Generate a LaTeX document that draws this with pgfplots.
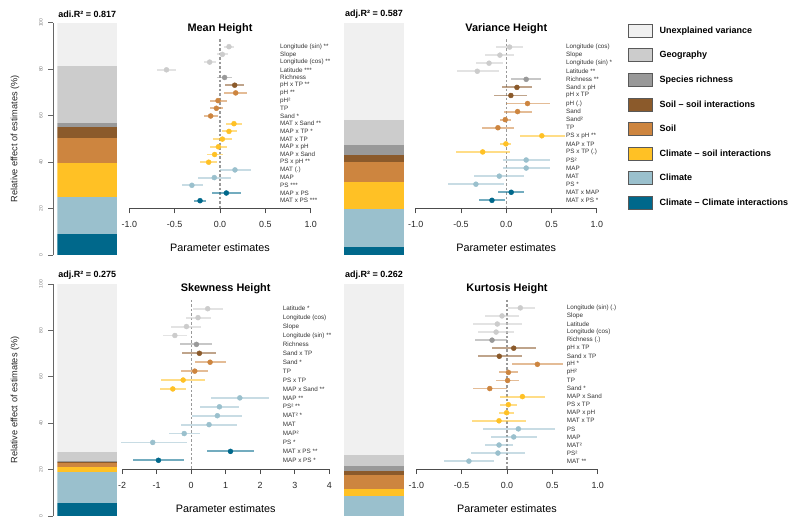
\documentclass[border=0pt]{standalone}
\usepackage{pgfplots}
\pgfplotsset{compat=1.18}
\usepackage{pgfplotstable}
\usepackage{fontspec}
\setmainfont{Liberation Sans}
\definecolor{cUnex}{HTML}{F0F0F0}
\definecolor{cGeo}{HTML}{CCCCCC}
\definecolor{cRich}{HTML}{999999}
\definecolor{cSS}{HTML}{8B5A2B}
\definecolor{cSoil}{HTML}{CD853F}
\definecolor{cCS}{HTML}{FFC125}
\definecolor{cClim}{HTML}{9AC0CD}
\definecolor{cCC}{HTML}{00688B}

% Mean height
\pgfplotstableread{
row est lo hi g
1 0.099 0.044 0.158 1
2 0.026 -0.037 0.092 1
3 -0.114 -0.176 -0.048 1
4 -0.59 -0.69 -0.48 1
5 0.051 -0.03 0.129 2
6 0.162 0.055 0.268 3
7 0.173 0.048 0.30 4
8 -0.022 -0.11 0.074 4
9 -0.04 -0.11 0.037 4
10 -0.103 -0.18 -0.018 4
11 0.154 0.066 0.246 5
12 0.099 0.018 0.184 5
13 0.026 -0.08 0.132 5
14 -0.018 -0.11 0.074 5
15 -0.059 -0.147 0.029 5
16 -0.125 -0.22 -0.037 5
17 0.165 0.0 0.338 6
18 -0.063 -0.24 0.118 6
19 -0.31 -0.42 -0.19 6
20 0.07 -0.092 0.228 7
21 -0.22 -0.29 -0.155 7
}\tMean
% Variance height
\pgfplotstableread{
row est lo hi g
1 0.037 -0.11 0.18 1
2 -0.07 -0.23 0.09 1
3 -0.19 -0.33 -0.037 1
4 -0.32 -0.54 -0.077 1
5 0.22 0.055 0.386 2
6 0.118 -0.048 0.28 3
7 0.051 -0.13 0.228 3
8 0.235 0.0 0.478 4
9 0.125 -0.03 0.283 4
10 -0.011 -0.066 0.051 4
11 -0.092 -0.268 0.085 4
12 0.393 0.147 0.647 5
13 -0.004 -0.066 0.055 5
14 -0.26 -0.56 0.044 5
15 0.22 -0.04 0.485 6
16 0.22 -0.04 0.485 6
17 -0.077 -0.36 0.2 6
18 -0.335 -0.64 -0.022 6
19 0.055 -0.092 0.2 7
20 -0.158 -0.298 -0.011 7
}\tVar
% Skewness height
\pgfplotstableread{
row est lo hi g
1 0.48 0.06 0.93 1
2 0.2 -0.16 0.58 1
3 -0.135 -0.57 0.29 1
4 -0.47 -0.82 -0.116 1
5 0.154 -0.31 0.61 2
6 0.24 -0.25 0.73 3
7 0.55 0.1 1.01 4
8 0.106 -0.28 0.48 4
9 -0.23 -0.86 0.405 5
10 -0.53 -0.91 -0.145 5
11 1.41 0.58 2.25 6
12 0.82 0.26 1.38 6
13 0.76 0.03 1.485 6
14 0.52 -0.28 1.33 6
15 -0.2 -0.65 0.26 6
16 -1.11 -2.04 -0.116 6
17 1.14 0.45 1.82 7
18 -0.945 -1.68 -0.21 7
}\tSkew
% Kurtosis height
\pgfplotstableread{
row est lo hi g
1 0.147 0.007 0.305 1
2 -0.055 -0.24 0.13 1
3 -0.107 -0.375 0.165 1
4 -0.12 -0.315 0.077 1
5 -0.165 -0.35 0.0 2
6 0.074 -0.165 0.316 3
7 -0.085 -0.32 0.165 3
8 0.335 0.06 0.615 4
9 0.015 -0.088 0.118 4
10 0.007 -0.118 0.132 4
11 -0.19 -0.37 0.0 4
12 0.17 -0.074 0.415 5
13 0.015 -0.08 0.11 5
14 -0.004 -0.088 0.08 5
15 -0.088 -0.39 0.21 5
16 0.125 -0.265 0.53 6
17 0.074 -0.18 0.327 6
18 -0.088 -0.24 0.066 6
19 -0.1 -0.395 0.2 6
20 -0.42 -0.7 -0.14 6
}\tKurt

\pgfplotsset{
  grp/.style={only marks, mark=*, mark size=2.5pt, color=#1,
    mark options={fill=#1, draw=#1, solid, opacity=1},
    /pgfplots/error bars/.cd, x dir=both, x explicit, error mark=none,
    error bar style={line width=1.9pt, draw=#1, opacity=0.55}, /pgfplots/.cd},
  forest/.style={scale only axis, clip=false, y dir=reverse,
    axis x line*=bottom, axis y line*=right,
    y axis line style={draw=none}, ytick style={draw=none},
    tick align=outside, major tick length=5pt,
    x axis line style={black!70, line width=0.8pt},
    xtick style={black!70, line width=0.8pt},
    xticklabel style={font=\fontsize{8.9}{10}\selectfont, text=black!85, anchor=center, yshift=-11.5pt},
    yticklabel style={font=\fontsize{6.3}{7}\selectfont, text=black!80, anchor=west},
    xlabel={Parameter estimates},
    xlabel style={font=\fontsize{10.8}{12}\selectfont, at={(axis description cs:0.5,0)}, anchor=center, yshift=-39.3pt},
    title style={font=\bfseries\fontsize{10.9}{12}\selectfont, at={(axis description cs:0.5,1)}, anchor=center, yshift=4.7pt}},
  zeroline/.style={black!40, line width=1.1pt, dash pattern=on 2.5pt off 2pt},
  barax/.style={scale only axis, hide axis, ybar stacked, bar width=60pt, width=60pt,
    xmin=-0.5, xmax=0.5, ymin=0, ymax=100,
    title style={font=\bfseries\fontsize{9}{10}\selectfont, at={(axis description cs:0.5,1)}, anchor=center, yshift=2.4pt}},
  yscale/.style={scale only axis, width=1pt, xmin=0, xmax=1, ymin=0, ymax=100,
    axis y line*=left, axis x line=none, xtick=\empty,
    ytick={0,20,40,60,80,100}, yticklabels={0,20,40,60,80,100},
    tick align=outside, major tick length=5pt,
    y axis line style={black!60, line width=0.8pt},
    ytick style={black!60, line width=0.8pt},
    yticklabel style={font=\fontsize{5}{6}\selectfont, text=black!50, xshift=-2pt, rotate=90, anchor=south},
    ylabel={Relative effect of estimates (\%)},
    ylabel style={font=\fontsize{9.2}{10}\selectfont, text=black!85, at={(axis description cs:-38.3,0.5)}, anchor=center}},
}

\newcommand{\grpplot}[3]{\addplot[grp=#1, restrict expr to domain={\thisrow{g}}{#2:#2}] table[x=est, y=row, x error plus expr=\thisrow{hi}-\thisrow{est}, x error minus expr=\thisrow{est}-\thisrow{lo}] {#3};}

\begin{document}
\begin{tikzpicture}
\useasboundingbox (0,0) rectangle (800pt,528pt);

% ---------- Panel 1: Mean ----------
\begin{axis}[yscale, at={(53.3pt,273pt)}, anchor=south west, height=232.3pt]
\end{axis}
\begin{axis}[barax, at={(57.3pt,273pt)}, anchor=south west, height=232.3pt, title={adi.R² = 0.817}]
\addplot[fill=cCC, draw=none] coordinates {(0,8.9)};
\addplot[fill=cClim, draw=none] coordinates {(0,16.1)};
\addplot[fill=cCS, draw=none] coordinates {(0,14.6)};
\addplot[fill=cSoil, draw=none] coordinates {(0,10.6)};
\addplot[fill=cSS, draw=none] coordinates {(0,4.8)};
\addplot[fill=cRich, draw=none] coordinates {(0,1.8)};
\addplot[fill=cGeo, draw=none] coordinates {(0,24.7)};
\addplot[fill=cUnex, draw=none] coordinates {(0,18.5)};
\end{axis}
\begin{axis}[forest, at={(129.3pt,319.6pt)}, anchor=south west, width=181.4pt, height=169.4pt,
  xmin=-1, xmax=1, ymin=0, ymax=22, xtick={-1,-0.5,0,0.5,1}, xticklabels={-1.0,-0.5,0.0,0.5,1.0},
  title={Mean Height}, ytick={1,...,21},
  yticklabels={Longitude (sin) **,Slope,Longitude (cos) **,Latitude ***,Richness,pH x TP **,pH **,pH²,TP,Sand *,MAT x Sand **,MAP x TP *,MAT x TP,MAP x pH,MAP x Sand,PS x pH **,MAT (.),MAP,PS ***,MAP x PS,MAT x PS ***},
  yticklabel style={xshift=-39pt}]
\addplot[zeroline] coordinates {(0,0) (0,22)};
\grpplot{cGeo}{1}{\tMean}
\grpplot{cRich}{2}{\tMean}
\grpplot{cSS}{3}{\tMean}
\grpplot{cSoil}{4}{\tMean}
\grpplot{cCS}{5}{\tMean}
\grpplot{cClim}{6}{\tMean}
\grpplot{cCC}{7}{\tMean}
\end{axis}

% ---------- Panel 2: Variance ----------
\begin{axis}[barax, at={(344pt,273pt)}, anchor=south west, height=232.3pt, title={adj.R² = 0.587}]
\addplot[fill=cCC, draw=none] coordinates {(0,3.6)};
\addplot[fill=cClim, draw=none] coordinates {(0,16.0)};
\addplot[fill=cCS, draw=none] coordinates {(0,11.9)};
\addplot[fill=cSoil, draw=none] coordinates {(0,8.4)};
\addplot[fill=cSS, draw=none] coordinates {(0,3.3)};
\addplot[fill=cRich, draw=none] coordinates {(0,4.0)};
\addplot[fill=cGeo, draw=none] coordinates {(0,11.0)};
\addplot[fill=cUnex, draw=none] coordinates {(0,41.8)};
\end{axis}
\begin{axis}[forest, at={(415.7pt,319.6pt)}, anchor=south west, width=181.1pt, height=169.4pt,
  xmin=-1, xmax=1, ymin=0, ymax=21, xtick={-1,-0.5,0,0.5,1}, xticklabels={-1.0,-0.5,0.0,0.5,1.0},
  title={Variance Height}, ytick={1,...,20},
  yticklabels={Longitude (cos),Slope,Longitude (sin) *,Latitude **,Richness **,Sand x pH,pH x TP,pH (.),Sand,Sand²,TP,PS x pH **,MAP x TP,PS x TP (.),PS²,MAP,MAT,PS *,MAT x MAP,MAT x PS *},
  yticklabel style={xshift=-39.1pt}]
\addplot[zeroline] coordinates {(0,0) (0,21)};
\grpplot{cGeo}{1}{\tVar}
\grpplot{cRich}{2}{\tVar}
\grpplot{cSS}{3}{\tVar}
\grpplot{cSoil}{4}{\tVar}
\grpplot{cCS}{5}{\tVar}
\grpplot{cClim}{6}{\tVar}
\grpplot{cCC}{7}{\tVar}
\end{axis}

% ---------- Panel 3: Skewness ----------
\begin{axis}[forest, at={(122pt,58.8pt)}, anchor=south west, width=207.3pt, height=169.4pt,
  xmin=-2, xmax=4, ymin=0, ymax=19, xtick={-2,-1,0,1,2,3,4}, xticklabels={-2,-1,0,1,2,3,4},
  title={Skewness Height}, ytick={1,...,18},
  yticklabels={Latitude *,Longitude (cos),Slope,Longitude (sin) **,Richness,Sand x TP,Sand *,TP,PS x TP,MAP x Sand **,MAP **,PS² **,MAT² *,MAT,MAP²,PS *,MAT x PS **,MAP x PS *},
  yticklabel style={xshift=-54.9pt}]
\addplot[zeroline] coordinates {(0,0) (0,19)};
\grpplot{cGeo}{1}{\tSkew}
\grpplot{cRich}{2}{\tSkew}
\grpplot{cSS}{3}{\tSkew}
\grpplot{cSoil}{4}{\tSkew}
\grpplot{cCS}{5}{\tSkew}
\grpplot{cClim}{6}{\tSkew}
\grpplot{cCC}{7}{\tSkew}
\end{axis}
\begin{axis}[yscale, at={(53.3pt,12pt)}, anchor=south west, height=232pt]
\end{axis}
\begin{axis}[barax, at={(57.3pt,12pt)}, anchor=south west, height=232pt, title={adj.R² = 0.275}]
\addplot[fill=cCC, draw=none] coordinates {(0,5.7)};
\addplot[fill=cClim, draw=none] coordinates {(0,13.3)};
\addplot[fill=cCS, draw=none] coordinates {(0,2.0)};
\addplot[fill=cSoil, draw=none] coordinates {(0,1.8)};
\addplot[fill=cSS, draw=none] coordinates {(0,0.6)};
\addplot[fill=cRich, draw=none] coordinates {(0,0.4)};
\addplot[fill=cGeo, draw=none] coordinates {(0,3.6)};
\addplot[fill=cUnex, draw=none] coordinates {(0,72.6)};
\end{axis}

% ---------- Panel 4: Kurtosis ----------
\begin{axis}[barax, at={(344pt,12pt)}, anchor=south west, height=232pt, title={adj.R² = 0.262}]
\addplot[fill=cClim, draw=none] coordinates {(0,8.75)};
\addplot[fill=cCS, draw=none] coordinates {(0,3.05)};
\addplot[fill=cSoil, draw=none] coordinates {(0,5.9)};
\addplot[fill=cSS, draw=none] coordinates {(0,1.8)};
\addplot[fill=cRich, draw=none] coordinates {(0,2.1)};
\addplot[fill=cGeo, draw=none] coordinates {(0,4.6)};
\addplot[fill=cUnex, draw=none] coordinates {(0,73.8)};
\end{axis}
\begin{axis}[forest, at={(416.3pt,58.8pt)}, anchor=south west, width=181.4pt, height=169.4pt,
  xmin=-1, xmax=1, ymin=0, ymax=21, xtick={-1,-0.5,0,0.5,1}, xticklabels={-1.0,-0.5,0.0,0.5,1.0},
  title={Kurtosis Height}, ytick={1,...,20},
  yticklabels={Longitude (sin) (.),Slope,Latitude,Longitude (cos),Richness (.),pH x TP,Sand x TP,pH *,pH²,TP,Sand *,MAP x Sand,PS x TP,MAP x pH,MAT x TP,PS,MAP,MAT²,PS²,MAT **},
  yticklabel style={xshift=-39.3pt}]
\addplot[zeroline] coordinates {(0,0) (0,21)};
\grpplot{cGeo}{1}{\tKurt}
\grpplot{cRich}{2}{\tKurt}
\grpplot{cSS}{3}{\tKurt}
\grpplot{cSoil}{4}{\tKurt}
\grpplot{cCS}{5}{\tKurt}
\grpplot{cClim}{6}{\tKurt}
\end{axis}

% ---------- Legend ----------
\begin{axis}[at={(628pt,509.6pt)}, anchor=north west, scale only axis, width=1pt, height=1pt, hide axis,
  xmin=0, xmax=1, ymin=0, ymax=1,
  legend style={at={(0,1)}, anchor=north west, draw=none, fill=none, inner sep=0pt, outer sep=0pt,
    row sep=0pt, column sep=0pt, nodes={inner sep=0pt},
    font=\bfseries\fontsize{9}{10}\selectfont},
  legend cell align=left,
  legend image code/.code={\path[draw=none, fill=none] (0pt,-12.3pt) rectangle (31.7pt,12.3pt);
    \draw[#1, draw=black!65, line width=0.9pt] (0.45pt,-6.5pt) rectangle (24.55pt,6.5pt);}]
\addlegendimage{fill=cUnex}\addlegendentry{Unexplained variance}
\addlegendimage{fill=cGeo}\addlegendentry{Geography}
\addlegendimage{fill=cRich}\addlegendentry{Species richness}
\addlegendimage{fill=cSS}\addlegendentry{Soil – soil interactions}
\addlegendimage{fill=cSoil}\addlegendentry{Soil}
\addlegendimage{fill=cCS}\addlegendentry{Climate – soil interactions}
\addlegendimage{fill=cClim}\addlegendentry{Climate}
\addlegendimage{fill=cCC}\addlegendentry{Climate – Climate interactions}
\end{axis}
\end{tikzpicture}
\end{document}
